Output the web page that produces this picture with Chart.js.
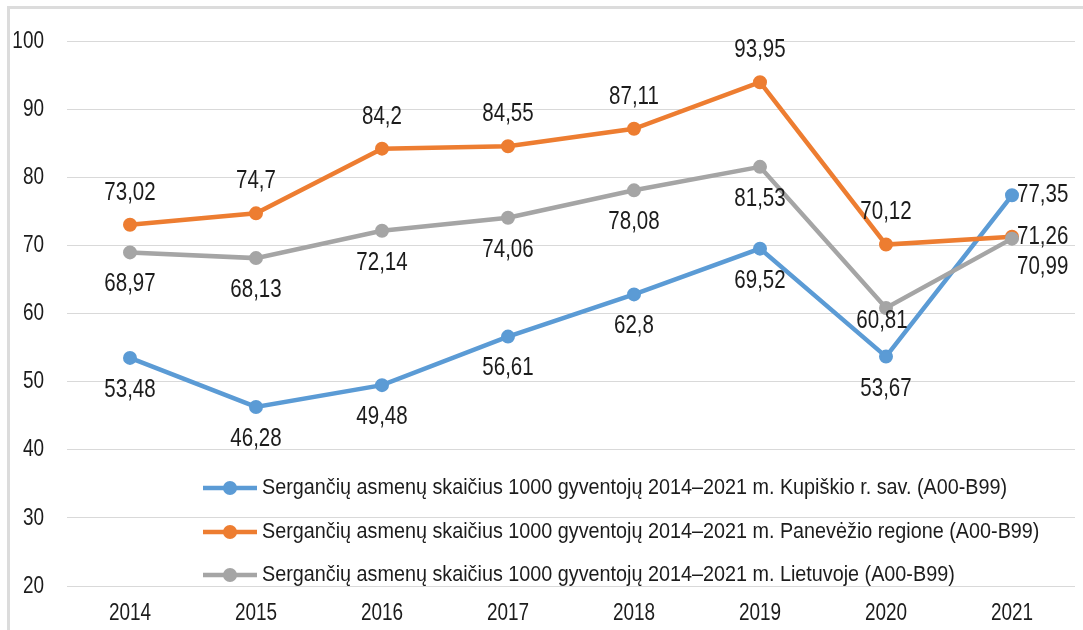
<!DOCTYPE html>
<html>
<head>
<meta charset="utf-8">
<script src="https://cdn.jsdelivr.net/npm/chart.js@4.4.1/dist/chart.umd.min.js"></script>
<style>
  html, body { margin: 0; padding: 0; background: #fff; overflow: hidden; width: 1083px; height: 630px; }
  #frame { position: absolute; left: 7px; top: 6px; width: 1100px; height: 650px; border-left: 3px solid #dcdcdc; border-top: 3px solid #dcdcdc; }
  #c { position: absolute; left: 0; top: 0; }
</style>
</head>
<body>
<div id="frame"></div>
<canvas id="c" width="1083" height="630"></canvas>
<script>
// ---- data ----
const years = ['2014', '2015', '2016', '2017', '2018', '2019', '2020', '2021'];
const kupiskis = [53.48, 46.28, 49.48, 56.61, 62.8, 69.52, 53.67, 77.35];
const panevezys = [73.02, 74.7, 84.2, 84.55, 87.11, 93.95, 70.12, 71.26];
const lietuva = [68.97, 68.13, 72.14, 74.06, 78.08, 81.53, 60.81, 70.99];
const seriesNames = [
  'Sergančių asmenų skaičius 1000 gyventojų 2014–2021 m. Kupiškio r. sav. (A00-B99)',
  'Sergančių asmenų skaičius 1000 gyventojų 2014–2021 m. Panevėžio regione (A00-B99)',
  'Sergančių asmenų skaičius 1000 gyventojų 2014–2021 m. Lietuvoje (A00-B99)'
];
const yMin = 20, yMax = 100, yStep = 10;

// label placement per point (style only)
const kupiskisPos = ['below', 'below', 'below', 'below', 'below', 'below', 'below', 'right'];
const panevezysPos = ['above', 'above', 'above', 'above', 'above', 'above', 'above', 'right'];
const lietuvaPos = ['below', 'below', 'below', 'below', 'below', 'below', 'belowNear', 'rightBelow'];

const FONT = '"Liberation Sans", Arial, sans-serif';
const TEXT = '#1c1c1c';
const colors = ['#5B9BD5', '#ED7D31', '#A5A5A5'];

const placements = {
  above: { dx: 0, dy: -32, align: 'center' },
  below: { dx: 0, dy: 32, align: 'center' },
  belowNear: { dx: -4, dy: 13, align: 'center' },
  right: { dx: 5, dy: 0, align: 'left' },
  rightBelow: { dx: 5, dy: 28, align: 'left' }
};

// draw condensed (narrow) text
function narrowText(ctx, text, x, y, size, sx, align) {
  ctx.save();
  ctx.font = size + 'px ' + FONT;
  ctx.textAlign = align;
  ctx.textBaseline = 'middle';
  ctx.fillStyle = TEXT;
  ctx.translate(x, y);
  ctx.scale(sx, 1);
  ctx.fillText(text, 0, 0);
  ctx.restore();
}

const tickPlugin = {
  id: 'narrowTicks',
  afterDraw(chart) {
    const ctx = chart.ctx;
    const xs = chart.scales.x, ys = chart.scales.y;
    ys.ticks.forEach((t, i) => {
      narrowText(ctx, String(t.value), ys.right - 23, ys.getPixelForTick(i), 24, 0.79, 'right');
    });
    xs.ticks.forEach((t, i) => {
      narrowText(ctx, xs.getLabelForValue(t.value), xs.getPixelForTick(i), xs.top + 27, 24, 0.79, 'center');
    });
  }
};

const labelPlugin = {
  id: 'valueLabels',
  afterDatasetsDraw(chart) {
    const ctx = chart.ctx;
    chart.data.datasets.forEach((ds, i) => {
      const meta = chart.getDatasetMeta(i);
      meta.data.forEach((pt, j) => {
        const p = placements[ds.labelPos[j]];
        narrowText(ctx, String(ds.data[j]).replace('.', ','), pt.x + p.dx, pt.y + p.dy, 25, 0.82, p.align);
      });
    });
  }
};

const legendPlugin = {
  id: 'innerLegend',
  afterDatasetsDraw(chart) {
    const ctx = chart.ctx;
    const rows = [488, 532, 575];
    const x0 = 203, x1 = 257, xt = 262;
    chart.data.datasets.forEach((ds, i) => {
      const y = rows[i];
      ctx.save();
      ctx.strokeStyle = ds.borderColor;
      ctx.lineWidth = 4.5;
      ctx.lineCap = 'butt';
      ctx.beginPath();
      ctx.moveTo(x0, y);
      ctx.lineTo(x1, y);
      ctx.stroke();
      ctx.fillStyle = ds.borderColor;
      ctx.beginPath();
      ctx.arc((x0 + x1) / 2, y, 7, 0, Math.PI * 2);
      ctx.fill();
      ctx.restore();
      narrowText(ctx, ds.label, xt, y, 21.5, 0.92, 'left');
    });
  }
};

function makeDs(label, data, color, pos, order) {
  return {
    label, data, labelPos: pos, order,
    borderColor: color, backgroundColor: color,
    borderWidth: 4.5, pointRadius: 6, pointBorderWidth: 2,
    pointBackgroundColor: color, pointBorderColor: color,
    tension: 0, fill: false
  };
}

new Chart(document.getElementById('c'), {
  type: 'line',
  data: {
    labels: years,
    datasets: [
      makeDs(seriesNames[0], kupiskis, colors[0], kupiskisPos, 3),
      makeDs(seriesNames[1], panevezys, colors[1], panevezysPos, 2),
      makeDs(seriesNames[2], lietuva, colors[2], lietuvaPos, 1)
    ]
  },
  options: {
    responsive: false,
    animation: false,
    layout: { padding: { top: 41, right: 3, bottom: 0, left: 0 } },
    plugins: { legend: { display: false }, tooltip: { enabled: false } },
    scales: {
      x: {
        offset: true,
        grid: { display: false, drawTicks: false },
        border: { display: false },
        ticks: { display: false },
        afterFit(s) { s.height = 44; }
      },
      y: {
        min: yMin, max: yMax,
        grid: { color: '#d9d9d9', lineWidth: 1, drawTicks: false },
        border: { display: false },
        ticks: { display: false, stepSize: yStep },
        afterFit(s) { s.width = 67; }
      }
    }
  },
  plugins: [tickPlugin, labelPlugin, legendPlugin]
});
</script>
</body>
</html>
